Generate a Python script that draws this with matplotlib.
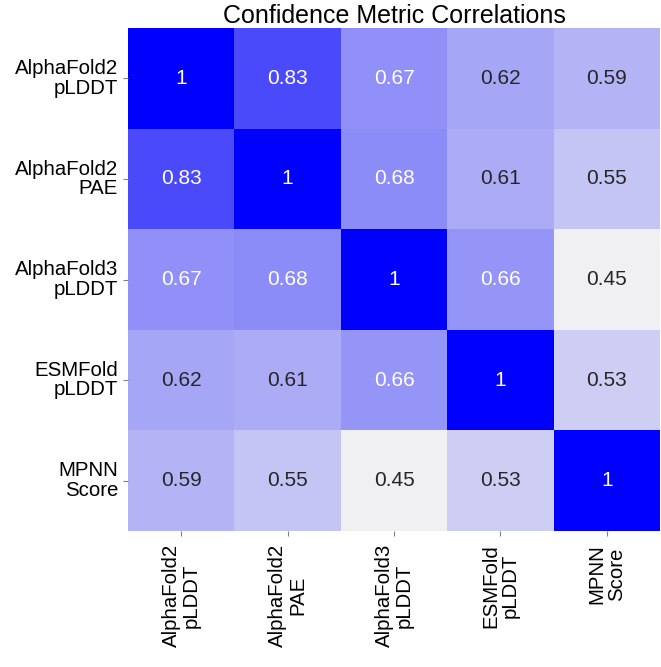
import numpy as np
import matplotlib as mpl
mpl.use('Agg')
import matplotlib.pyplot as plt
import seaborn as sns

labels = ["AlphaFold2\npLDDT", "AlphaFold2\nPAE", "AlphaFold3\npLDDT",
          "ESMFold\npLDDT", "MPNN\nScore"]

af2_plddt = [1.00, 0.83, 0.67, 0.62, 0.59]
af2_pae = [0.83, 1.00, 0.68, 0.61, 0.55]
af3_plddt = [0.67, 0.68, 1.00, 0.66, 0.45]
esm_plddt = [0.62, 0.61, 0.66, 1.00, 0.53]
mpnn_score = [0.59, 0.55, 0.45, 0.53, 1.00]

corr = np.array([af2_plddt, af2_pae, af3_plddt, esm_plddt, mpnn_score])

plt.rcParams['font.family'] = ['Liberation Sans', 'DejaVu Sans']

fig = plt.figure(figsize=(6.61, 6.67), dpi=100)
# heatmap box is ~128..660 px wide, 28..531 px tall
ax = fig.add_axes([0.1936, 0.2039, 0.805, 0.754])

cmap = sns.light_palette("blue", as_cmap=True)
sns.heatmap(corr, annot=True, cmap=cmap, cbar=False, ax=ax,
            xticklabels=labels, yticklabels=labels,
            annot_kws={'fontsize': 15})

ax.set_title("Confidence Metric Correlations", fontsize=18, pad=3)
ax.tick_params(axis='both', labelsize=14.7, color='gray')
ax.tick_params(axis='x', pad=6)
plt.setp(ax.get_xticklabels(), rotation=90, ha='center', linespacing=1.05)
plt.setp(ax.get_yticklabels(), rotation=0, ha='right', linespacing=1.05)

fig.savefig("out.png", dpi=100)
